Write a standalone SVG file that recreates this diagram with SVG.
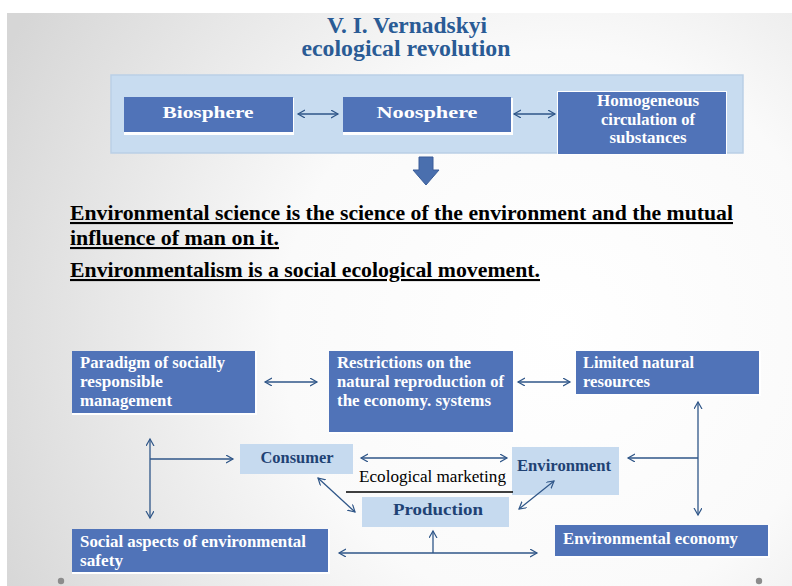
<svg xmlns="http://www.w3.org/2000/svg" width="792" height="586" viewBox="0 0 792 586">
<defs>
<radialGradient id="bg" cx="560" cy="330" r="620" gradientUnits="userSpaceOnUse">
<stop offset="0" stop-color="#ffffff"/>
<stop offset="0.45" stop-color="#fafafa"/>
<stop offset="1" stop-color="#d6d6d6"/>
</radialGradient>
<marker id="ah" markerWidth="10" markerHeight="10" refX="7" refY="4" orient="auto-start-reverse" markerUnits="userSpaceOnUse">
<path d="M0,0 L7,4 L0,8" fill="none" stroke="#2F5688" stroke-width="1.2"/>
</marker>
<style>
.dark{fill:#5073B8}
.sh{fill:#ffffff}
.light{fill:#C6DAEF}
.wt{font-family:"Liberation Serif","Times New Roman",serif;font-weight:bold;fill:#ffffff;font-size:17px}
.bt{font-family:"Liberation Serif","Times New Roman",serif;font-weight:bold;fill:#1F4274;font-size:17px}
.ttl{font-family:"Liberation Serif","Times New Roman",serif;font-weight:bold;fill:#2A5B95;font-size:23px}
.sent{font-family:"Liberation Serif","Times New Roman",serif;font-weight:bold;fill:#000000;font-size:21px;text-decoration:underline}
.con{stroke:#2F5688;stroke-width:1.3;fill:none}
</style>
</defs>
<rect x="0" y="0" width="792" height="586" fill="#ffffff"/>
<rect x="7" y="13" width="785" height="573" fill="url(#bg)"/>

<g id="title">
<text class="ttl" x="407" y="33" text-anchor="middle" textLength="160" lengthAdjust="spacingAndGlyphs">V. I. Vernadskyi</text>
<text class="ttl" x="406" y="56" text-anchor="middle" textLength="209" lengthAdjust="spacingAndGlyphs">ecological revolution</text>
</g>

<g id="panel">
<rect x="111" y="75" width="632" height="78" fill="#C8DCF0" stroke="#BACFE6" stroke-width="1.5"/>
</g>

<g id="biosphere">
<rect class="sh" x="124" y="98" width="170" height="37"/>
<rect class="dark" x="124" y="97" width="169" height="35"/>
<text class="wt" x="208" y="118" text-anchor="middle" font-size="21" textLength="91" lengthAdjust="spacingAndGlyphs">Biosphere</text>
</g>
<g id="noosphere">
<rect class="sh" x="343" y="98" width="170" height="37"/>
<rect class="dark" x="343" y="97" width="168" height="35"/>
<text class="wt" x="427" y="118" text-anchor="middle" font-size="21" textLength="101" lengthAdjust="spacingAndGlyphs">Noosphere</text>
</g>
<g id="homogeneous">
<rect class="sh" x="557" y="91" width="170" height="64"/>
<rect class="dark" x="558" y="92" width="168" height="62"/>
<text class="wt" x="648" y="106" text-anchor="middle" font-size="16" textLength="102" lengthAdjust="spacingAndGlyphs">Homogeneous</text>
<text class="wt" x="648" y="125" text-anchor="middle" font-size="16" textLength="94" lengthAdjust="spacingAndGlyphs">circulation of</text>
<text class="wt" x="648" y="143" text-anchor="middle" font-size="16" textLength="77" lengthAdjust="spacingAndGlyphs">substances</text>
</g>

<g id="down-arrow">
<polygon points="419,157 433,157 433,170 439,170 426,185 413,170 419,170" fill="#4A6FAE" stroke="#3A5D98" stroke-width="1"/>
</g>

<g id="statements">
<text class="sent" x="70" y="220" textLength="663" lengthAdjust="spacingAndGlyphs">Environmental science is the science of the environment and the mutual</text>
<text class="sent" x="70" y="245" textLength="209" lengthAdjust="spacingAndGlyphs">influence of man on it.</text>
<text class="sent" x="70" y="277" textLength="470" lengthAdjust="spacingAndGlyphs">Environmentalism is a social ecological movement.</text>
</g>

<g id="paradigm">
<rect class="sh" x="72" y="351" width="185" height="64"/>
<rect class="dark" x="72" y="351" width="183" height="62"/>
<text class="wt" x="80" y="368" textLength="145" lengthAdjust="spacingAndGlyphs">Paradigm of socially</text>
<text class="wt" x="80" y="387" textLength="83" lengthAdjust="spacingAndGlyphs">responsible</text>
<text class="wt" x="80" y="406" textLength="92" lengthAdjust="spacingAndGlyphs">management</text>
</g>
<g id="restrictions">
<rect class="sh" x="329" y="351" width="186" height="83"/>
<rect class="dark" x="329" y="351" width="184" height="81"/>
<text class="wt" x="337" y="368" textLength="134" lengthAdjust="spacingAndGlyphs">Restrictions on the</text>
<text class="wt" x="337" y="387" textLength="167" lengthAdjust="spacingAndGlyphs">natural reproduction of</text>
<text class="wt" x="337" y="406" textLength="154" lengthAdjust="spacingAndGlyphs">the economy. systems</text>
</g>
<g id="limited">
<rect class="sh" x="576" y="351" width="185" height="45"/>
<rect class="dark" x="576" y="351" width="183" height="43"/>
<text class="wt" x="583" y="368" textLength="111" lengthAdjust="spacingAndGlyphs">Limited natural</text>
<text class="wt" x="583" y="387" textLength="67" lengthAdjust="spacingAndGlyphs">resources</text>
</g>
<g id="consumer">
<rect class="light" x="240" y="444" width="113" height="30"/>
<text class="bt" x="297" y="463" text-anchor="middle" textLength="73" lengthAdjust="spacingAndGlyphs">Consumer</text>
</g>
<g id="environment">
<rect class="light" x="512" y="447" width="107" height="48"/>
<text class="bt" x="517" y="471" textLength="94" lengthAdjust="spacingAndGlyphs">Environment</text>
</g>
<g id="production">
<rect class="light" x="362" y="497" width="147" height="30"/>
<text class="bt" x="438" y="515" text-anchor="middle" font-size="18" textLength="90" lengthAdjust="spacingAndGlyphs">Production</text>
</g>
<g id="ecological-marketing">
<text x="359" y="482" font-family="'Liberation Serif','Times New Roman',serif" font-size="17" fill="#000000" textLength="147" lengthAdjust="spacingAndGlyphs">Ecological marketing</text>
<line x1="346" y1="492" x2="513" y2="492" stroke="#000000" stroke-width="1.3"/>
</g>
<g id="social">
<rect class="sh" x="72" y="529" width="258" height="45"/>
<rect class="dark" x="72" y="529" width="256" height="43"/>
<text class="wt" x="80" y="547" textLength="226" lengthAdjust="spacingAndGlyphs">Social aspects of environmental</text>
<text class="wt" x="80" y="566" textLength="43" lengthAdjust="spacingAndGlyphs">safety</text>
</g>
<g id="env-economy">
<rect class="sh" x="555" y="525" width="215" height="33"/>
<rect class="dark" x="555" y="525" width="213" height="31"/>
<text class="wt" x="563" y="544" textLength="175" lengthAdjust="spacingAndGlyphs">Environmental economy</text>
</g>

<g id="connectors">
<line class="con" x1="298" y1="114" x2="338" y2="114" marker-start="url(#ah)" marker-end="url(#ah)"/>
<line class="con" x1="514" y1="114" x2="555" y2="114" marker-start="url(#ah)" marker-end="url(#ah)"/>
<line class="con" x1="265" y1="382" x2="317" y2="382" marker-start="url(#ah)" marker-end="url(#ah)"/>
<line class="con" x1="518" y1="382" x2="570" y2="382" marker-start="url(#ah)" marker-end="url(#ah)"/>
<line class="con" x1="698" y1="402" x2="698" y2="515" marker-start="url(#ah)" marker-end="url(#ah)"/>
<line class="con" x1="698" y1="458" x2="628" y2="458" marker-end="url(#ah)"/>
<line class="con" x1="150" y1="439" x2="150" y2="518" marker-start="url(#ah)" marker-end="url(#ah)"/>
<line class="con" x1="150" y1="459" x2="233" y2="459" marker-end="url(#ah)"/>
<line class="con" x1="361" y1="458" x2="507" y2="458" marker-start="url(#ah)" marker-end="url(#ah)"/>
<line class="con" x1="318" y1="478" x2="355" y2="512" marker-start="url(#ah)" marker-end="url(#ah)"/>
<line class="con" x1="554" y1="481" x2="519" y2="509" marker-start="url(#ah)" marker-end="url(#ah)"/>
<line class="con" x1="339" y1="553" x2="537" y2="553" marker-start="url(#ah)" marker-end="url(#ah)"/>
<line class="con" x1="433" y1="553" x2="433" y2="531" marker-end="url(#ah)"/>
</g>

<g id="dots">
<circle cx="61" cy="581" r="3.2" fill="#8C8C8C"/>
<circle cx="759" cy="581" r="3.2" fill="#8C8C8C"/>
</g>
</svg>
